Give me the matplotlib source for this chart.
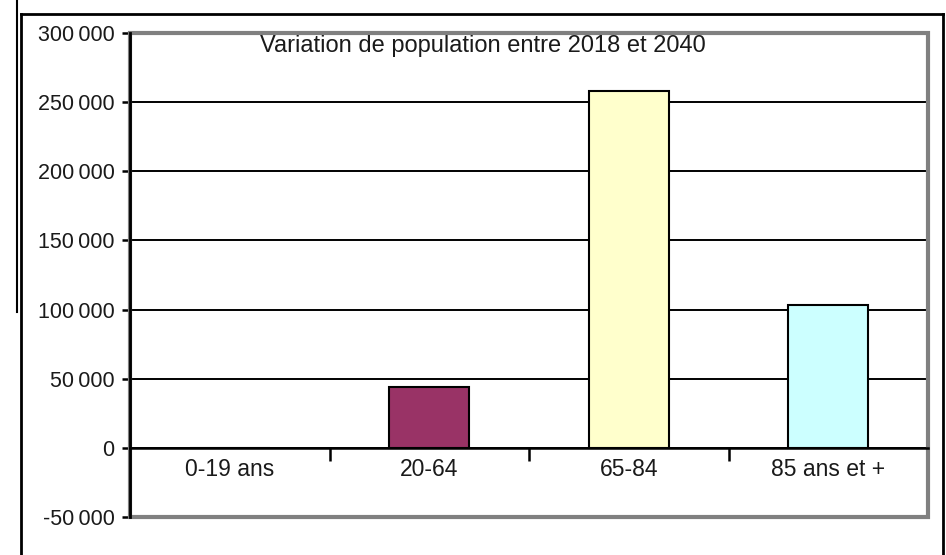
import matplotlib
matplotlib.use("Agg")
import matplotlib.pyplot as plt
from matplotlib.patches import Rectangle
from matplotlib.lines import Line2D
from matplotlib.ticker import FuncFormatter, FixedLocator

categories = ["0-19 ans", "20-64", "65-84", "85 ans et +"]
values = [0, 44000, 258000, 103000]
colors = ["#9999FF", "#993366", "#FFFFCC", "#CCFFFF"]
yticks = [-50000, 0, 50000, 100000, 150000, 200000, 250000, 300000]
title = "Variation de population entre 2018 et 2040"

plt.rcParams['font.family'] = ['Liberation Sans', 'DejaVu Sans']

W, H = 946, 555
fig = plt.figure(figsize=(W / 100, H / 100), dpi=100)
fig.patch.set_facecolor("white")

L, R, T, B = 130, 928, 33, 517
ax = fig.add_axes([L / W, 1 - B / H, (R - L) / W, (B - T) / H])
ax.set_facecolor("white")

x = list(range(len(categories)))
ax.bar(x, values, width=0.4, color=colors, edgecolor="black", linewidth=1.5, zorder=3)

ax.set_xlim(-0.5, len(categories) - 0.5)
ax.set_ylim(yticks[0], yticks[-1])
ax.set_yticks(yticks)
ax.yaxis.set_major_formatter(FuncFormatter(lambda v, p: f"{int(v):,}".replace(",", "\u2009")))
ax.grid(axis="y", color="black", linewidth=1.4, zorder=1)
ax.set_axisbelow(True)

# category axis crossing at 0
ax.spines["bottom"].set_position(("data", 0))
ax.spines["bottom"].set_color("black")
ax.spines["bottom"].set_linewidth(1.8)
ax.spines["bottom"].set_zorder(4)
ax.set_xticks(x)
ax.set_xticklabels(categories)
ax.xaxis.set_minor_locator(FixedLocator([i + 0.5 for i in x]))
ax.tick_params(axis="x", which="major", length=0, pad=7, labelsize=16.5, labelcolor="#1a1a1a")
ax.tick_params(axis="x", which="minor", length=9, width=1.8, direction="out", color="black")
ax.tick_params(axis="y", length=6, width=1.8, direction="out", pad=5, labelsize=15.5,
               color="black", labelcolor="#1a1a1a")

ax.spines["left"].set_color("black")
ax.spines["left"].set_linewidth(2)
ax.spines["left"].set_zorder(4)
ax.spines["top"].set_visible(False)
ax.spines["right"].set_visible(False)

# plot area frame
ax.add_patch(Rectangle((0, 0), 1, 1, transform=ax.transAxes, fill=False,
                       edgecolor="#808080", linewidth=3, zorder=2.4, clip_on=False))

# chart area border
fc = "black"
fig.add_artist(Line2D([21 / W, 21 / W], [0, 1 - 14 / H], transform=fig.transFigure, color=fc, lw=2))
fig.add_artist(Line2D([21 / W, 943 / W], [1 - 14 / H, 1 - 14 / H], transform=fig.transFigure, color=fc, lw=2))
fig.add_artist(Line2D([943 / W, 943 / W], [0, 1 - 14 / H], transform=fig.transFigure, color=fc, lw=2))
fig.add_artist(Line2D([17 / W, 17 / W], [1 - 312 / H, 1], transform=fig.transFigure, color=fc, lw=1.5))

fig.text(483 / W, 1 - 46 / H, title, ha="center", va="center", fontsize=17, color="#1a1a1a")

fig.savefig("out.png", dpi=100, facecolor="white")
